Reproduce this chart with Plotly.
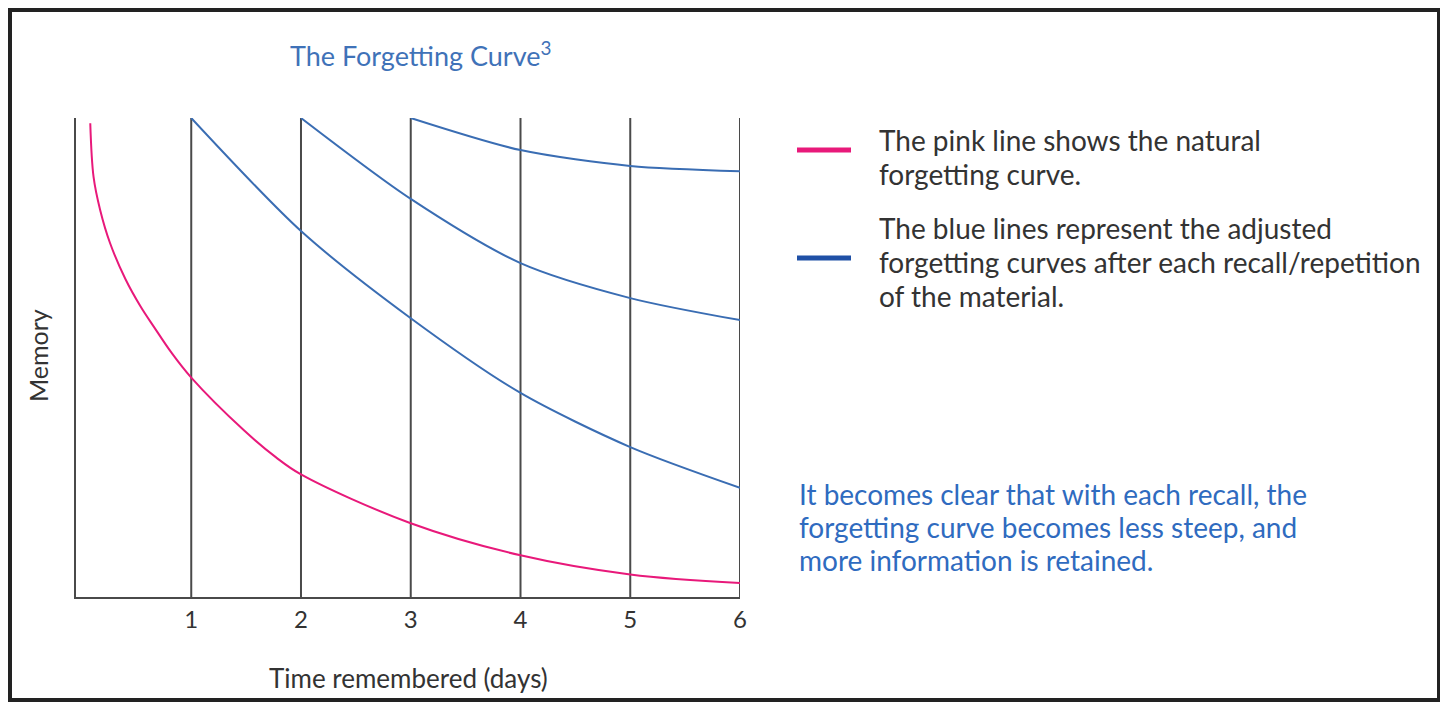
import plotly.graph_objects as go

# natural forgetting curve (pink)
pink_days = [0.08, 0.11, 0.17, 0.26, 0.40, 0.54, 0.66, 0.82, 1, 1.48, 1.77, 2, 3, 4, 5, 6]
pink_memory = [98.9, 87.7, 80.8, 73.9, 66.4, 60.6, 56.4, 51.0, 45.8, 34.8, 29.2, 25.6, 15.4, 8.7, 4.7, 2.9]

# adjusted curves after each recall (blue)
blue1_days = [1, 2, 3, 4, 5, 6]
blue1_memory = [100, 76.4, 58.2, 42.6, 31.3, 22.8]
blue2_days = [2, 3, 4, 5, 6]
blue2_memory = [100, 83.1, 69.7, 62.4, 57.8]
blue3_days = [3, 4, 5, 6]
blue3_memory = [100, 93.3, 90.0, 88.9]

recall_days = [1, 2, 3, 4, 5, 6]
tick_labels = ["1", "2", "3", "4", "5", "6"]

pink_text = ["The pink line shows the natural", "forgetting curve."]
blue_text = ["The blue lines represent the adjusted",
             "forgetting curves after each recall/repetition",
             "of the material."]
note_text = ["It becomes clear that with each recall, the",
             "forgetting curve becomes less steep, and",
             "more information is retained."]

PINK = "#e8197a"
BLUE = "#3a6db3"
GRID = "#4a4a4a"
TEXT = "#333333"
FONT = "Lato"

# page draws the figure 8px in from the corner, so work in screen pixels minus 8
OFF = 8
W, H = 1440, 696
L, R, T, B = 76 - OFF, 740 - OFF, 118 - OFF, 597 - OFF
def px(x):
    return (x - OFF - L) / (R - L)
def py(y):
    return (B - (y - OFF)) / (B - T)

fig = go.Figure()

# vertical recall lines
for d in recall_days:
    fig.add_trace(go.Scatter(x=[d, d], y=[0, 100], mode='lines',
                             line=dict(color=GRID, width=2), hoverinfo='skip'))

fig.add_trace(go.Scatter(x=pink_days, y=pink_memory, mode='lines',
                         line=dict(color=PINK, width=2, shape='spline', smoothing=1)))
for dx, dy in [(blue1_days, blue1_memory), (blue2_days, blue2_memory), (blue3_days, blue3_memory)]:
    fig.add_trace(go.Scatter(x=dx, y=dy, mode='lines',
                             line=dict(color=BLUE, width=2, shape='spline', smoothing=0.8)))

annotations = [
    dict(text="The Forgetting Curve<sup>3</sup>", x=px(288), y=py(54), xanchor='left',
         font=dict(size=27, color="#3f72b8")),
    dict(text="Memory", x=px(38), y=py(356), textangle=-90, xanchor='center',
         font=dict(size=25, color=TEXT)),
    dict(text="Time remembered (days)", x=px(408), y=py(678), xanchor='center',
         font=dict(size=26, color=TEXT)),
]
for i, t in enumerate(pink_text):
    annotations.append(dict(text=t, x=px(877), y=py(140 + 34 * i), xanchor='left',
                            font=dict(size=28, color=TEXT)))
for i, t in enumerate(blue_text):
    annotations.append(dict(text=t, x=px(877), y=py(228 + 34 * i), xanchor='left',
                            font=dict(size=28, color=TEXT)))
for i, t in enumerate(note_text):
    annotations.append(dict(text=t, x=px(797), y=py(494 + 33 * i), xanchor='left',
                            font=dict(size=28, color="#2f6bbf")))
for a in annotations:
    a.update(xref='paper', yref='paper', yanchor='middle', showarrow=False)

shapes = [
    # outer frame
    dict(type='rect', xref='paper', yref='paper', x0=px(10), x1=px(1439), y0=py(700), y1=py(10),
         line=dict(color="#222222", width=4)),
    # legend swatches
    dict(type='line', xref='paper', yref='paper', x0=px(797), x1=px(851), y0=py(150), y1=py(150),
         line=dict(color=PINK, width=5)),
    dict(type='line', xref='paper', yref='paper', x0=px(797), x1=px(851), y0=py(258), y1=py(258),
         line=dict(color="#1f50a6", width=5)),
]

fig.update_layout(
    width=W, height=H,
    margin=dict(l=L, r=W - R, t=T, b=H - B),
    paper_bgcolor='white', plot_bgcolor='white',
    showlegend=False,
    font=dict(family=FONT, color=TEXT),
    annotations=annotations,
    shapes=shapes,
    xaxis=dict(range=[-0.05, 6], tickvals=recall_days, ticktext=tick_labels,
               showgrid=False, zeroline=False, showline=True, linecolor=GRID, linewidth=2,
               ticks='', tickfont=dict(size=24, color=TEXT, family=FONT)),
    yaxis=dict(range=[0, 100], showticklabels=False, showgrid=False, zeroline=False,
               showline=True, linecolor=GRID, linewidth=2, ticks=''),
)

fig.write_html("out.html")
